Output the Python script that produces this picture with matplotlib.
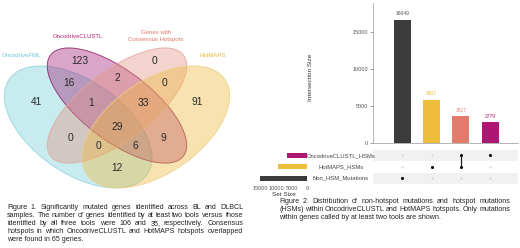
import matplotlib
matplotlib.use("Agg")
import matplotlib.pyplot as plt
from matplotlib.patches import Ellipse

W, H = 520, 248
plt.rcParams['font.family'] = ['Liberation Sans', 'DejaVu Sans']

# ---- Figure 1 : four-set Venn diagram ----
venn_names = ['OncodriveFML', 'OncodriveCLUSTL', 'Genes with\nConsensus Hotspots', 'HotMAPS']
venn_fill = ['#76CDD7', '#A01E76', '#E19182', '#EEB93A']
venn_edge = ['#8FD3DC', '#8C1B62', '#E4A59B', '#F0CF86']
venn_text = ['#6CC6D2', '#B0226E', '#E0776B', '#E8B53A']
# regions: A=FML, B=CLUSTL, C=Consensus, D=HotMAPS
region_keys = ['A', 'B', 'C', 'D', 'AB', 'BC', 'CD', 'AD', 'ABC', 'BCD',
               'AC', 'BD', 'ABCD', 'ACD', 'ABD']
region_counts = [41, 123, 0, 91, 16, 2, 0, 12, 1, 33, 0, 9, 29, 0, 6]

# ---- Figure 2 : UpSet plot ----
inter_sizes = [16649, 5807, 3617, 2779]
inter_members = [['Non_HSM_Mutations'], ['HotMAPS_HSMs'],
                 ['OncodriveCLUSTL_HSMs', 'HotMAPS_HSMs'], ['OncodriveCLUSTL_HSMs']]
inter_colors = ['#3B3B3B', '#EDBD3B', '#E27B6C', '#AE1672']
set_names = ['Non_HSM_Mutations', 'HotMAPS_HSMs', 'OncodriveCLUSTL_HSMs']
set_colors = ['#3B3B3B', '#EDBD3B', '#AE1672']
set_sizes = [sum(s for s, m in zip(inter_sizes, inter_members) if n in m) for n in set_names]

caption1 = ["Figure 1. Significantly mutated genes identified across BL and DLBCL",
            "samples. The number of genes identified by at least two tools versus those",
            "identified by all three tools were 106 and 35, respectively. Consensus",
            "hotspots in which OncodriveCLUSTL and HotMAPS hotspots overlapped",
            "were found in 65 genes."]
caption2 = ["Figure 2. Distribution of non-hotspot mutations and hotspot mutations",
            "(HSMs) within OncodriveCLUSTL and HotMAPS hotspots. Only mutations",
            "within genes called by at least two tools are shown."]


def box(x0, y0, x1, y1):
    # pixel box (top-left origin) -> figure fraction rect
    return [x0 / W, 1 - y1 / H, (x1 - x0) / W, (y1 - y0) / H]


fig = plt.figure(figsize=(W / 100, H / 100), dpi=100)

# Venn
ax = fig.add_axes(box(0, 0, 240, 195))
ax.set_xlim(0.0483, 0.975)
ax.set_ylim(0.152, 1.0633)
ax.axis('off')
ell = [((0.35, 0.47), 0.70, 0.40, -45), ((0.5, 0.57), 0.70, 0.30, -45),
       ((0.5, 0.57), 0.70, 0.30, 45), ((0.65, 0.47), 0.70, 0.40, 45)]
for (c, w, h, a), fc, ec in zip(ell, venn_fill, venn_edge):
    ax.add_patch(Ellipse(c, w, h, angle=a, facecolor=fc, alpha=0.4, lw=0))
    ax.add_patch(Ellipse(c, w, h, angle=a, facecolor='none', edgecolor=ec, lw=0.7, alpha=0.8))
region_pos = {'A': (0.19, 0.587), 'D': (0.81, 0.587), 'B': (0.355, 0.778),
              'C': (0.645, 0.778), 'AB': (0.315, 0.675), 'CD': (0.685, 0.675),
              'BC': (0.5, 0.699), 'ABC': (0.40, 0.582), 'BCD': (0.60, 0.582),
              'AC': (0.32, 0.418), 'BD': (0.68, 0.418), 'ABCD': (0.5, 0.470),
              'ACD': (0.43, 0.381), 'ABD': (0.57, 0.381), 'AD': (0.5, 0.278)}
for k, n in zip(region_keys, region_counts):
    ax.text(*region_pos[k], str(n), ha='center', va='center', fontsize=7.4, color='#2A2A2A')
name_pos = [(0.13, 0.806), (0.35, 0.895), (0.65, 0.895), (0.87, 0.806)]
for nm, p, col in zip(venn_names, name_pos, venn_text):
    ax.text(*p, nm, ha='center', va='center', fontsize=4.3, color=col, linespacing=1.5)

# UpSet: intersection bars
xs = list(range(len(inter_sizes)))
bx = fig.add_axes(box(373, 3, 518, 143))
bx.bar(xs, inter_sizes, width=0.58, color=inter_colors)
for x, v, c in zip(xs, inter_sizes, inter_colors):
    bx.text(x, v + 500, str(v), ha='center', va='bottom', fontsize=3.6,
            color='#555555' if x == 0 else c)
bx.set_xlim(-1, 3.95)
bx.set_ylim(0, 18900)
bx.set_yticks([0, 5000, 10000, 15000])
bx.set_xticks([])
for s in ['top', 'right']:
    bx.spines[s].set_visible(False)
for s in ['left', 'bottom']:
    bx.spines[s].set_color('#999999')
    bx.spines[s].set_linewidth(0.5)
bx.tick_params(axis='y', labelsize=4, colors='#555555', length=2, width=0.4, pad=1.5)
fig.text(310 / W, 1 - 77 / H, 'Intersection Size', rotation=90, ha='center',
         va='center', fontsize=4.6, color='#333333')

# UpSet: matrix
mx = fig.add_axes(box(373, 149.5, 518, 184))
mx.set_xlim(-1, 3.95)
mx.set_ylim(-0.5, 2.5)
mx.axis('off')
for r in range(len(set_names)):
    if r % 2 == 0:
        mx.axhspan(r - 0.5, r + 0.5, color='#F1F1F1', lw=0)
for x, mem in zip(xs, inter_members):
    rows = [set_names.index(m) for m in mem]
    for r in range(len(set_names)):
        if r not in rows:
            mx.scatter(x, r, s=2.5, color='#D6D6D6', lw=0)
    if len(rows) > 1:
        mx.plot([x, x], [min(rows), max(rows)], color='#222222', lw=0.9)
    mx.scatter([x] * len(rows), rows, s=5, color='#111111', lw=0, zorder=3)

# UpSet: set sizes
sx = fig.add_axes(box(260, 149.5, 307, 184))
sx.barh(range(len(set_names)), set_sizes, height=0.45, color=set_colors)
sx.set_xlim(15160, 0)
sx.set_ylim(-0.5, 2.5)
sx.set_yticks([])
sx.set_xticks([15000, 10000, 5000, 0])
for s in sx.spines.values():
    s.set_visible(False)
sx.tick_params(axis='x', labelsize=4, colors='#555555', length=0, pad=1.5)
sx.set_xlabel('Set Size', fontsize=4.6, color='#333333', labelpad=0.5)
for r, nm in enumerate(set_names):
    fig.text(341 / W, 1 - (178 - r * 11.3) / H, nm, ha='center', va='center',
             fontsize=4.2, color='#444444')

# captions, justified
fig.canvas.draw()
renderer = fig.canvas.get_renderer()


def justify(lines, x0, x1, y0, dy, size):
    for i, line in enumerate(lines):
        y = 1 - (y0 + i * dy) / H
        words = line.split(' ')
        if i == len(lines) - 1:
            fig.text(x0 / W, y, line, fontsize=size, va='center', color='#222222')
            continue
        ts = [fig.text(0, y, wd, fontsize=size, va='center', color='#222222') for wd in words]
        ws = [t.get_window_extent(renderer).width for t in ts]
        gap = (x1 - x0 - sum(ws)) / (len(words) - 1)
        x = x0
        for t, w in zip(ts, ws):
            t.set_x(x / W)
            x += w + gap


justify(caption1, 7, 243, 207.5, 8.0, 5.15)
justify(caption2, 279, 510, 201.5, 8.0, 5.1)

fig.savefig('out.png', dpi=100)
